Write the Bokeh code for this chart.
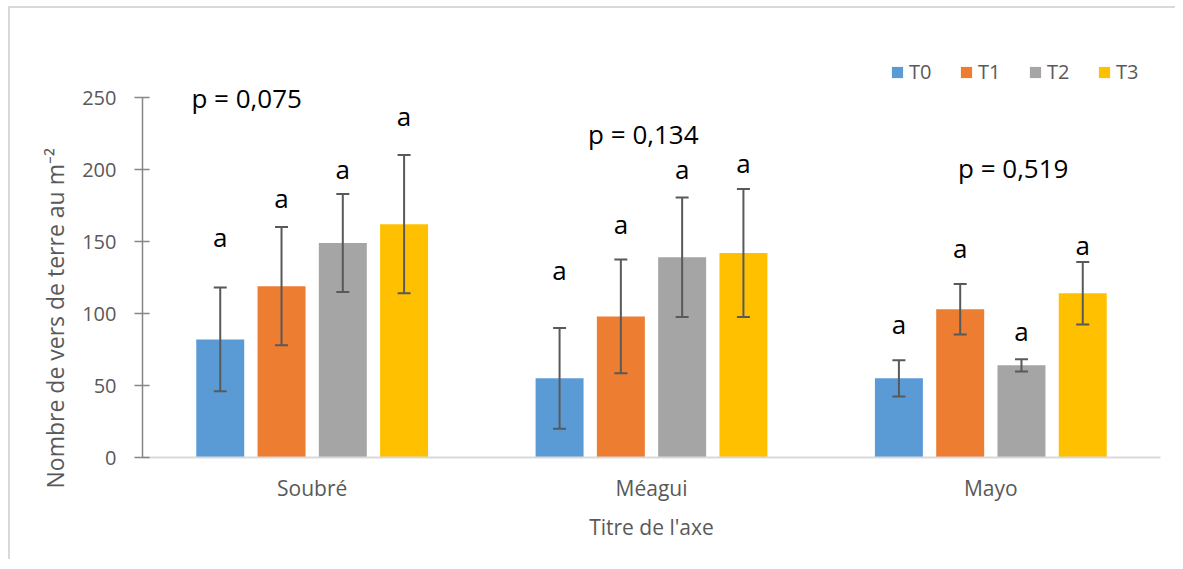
from bokeh.plotting import figure
from bokeh.models import (ColumnDataSource, FactorRange, Range1d, FixedTicker,
                          Whisker, TeeHead, Legend, LegendItem, Title)
from bokeh.transform import dodge
from bokeh.core.properties import value
from bokeh.embed import file_html
from bokeh.resources import INLINE

# ---------------- data ----------------
sites = ["Soubré", "Méagui", "Mayo"]
series = ["T0", "T1", "T2", "T3"]

t0 = [82, 55, 55]
t1 = [119, 98, 103]
t2 = [149, 139, 64]
t3 = [162, 142, 114]

t0_err = [36, 35, 12.6]
t1_err = [41, 39.5, 17.5]
t2_err = [34, 41.5, 4.3]
t3_err = [48, 44.5, 21.7]

letters = ["a", "a", "a"]
p_labels = ["p = 0,075", "p = 0,134", "p = 0,519"]

# annotation heights (data units)
t0_letter_y = [146.7, 123.4, 86.3]
t1_letter_y = [173.8, 155.8, 138.7]
t2_letter_y = [193.5, 193.5, 81.3]
t3_letter_y = [230.6, 198.1, 141.0]
p_label_y = [243.3, 217.8, 194.7]
p_label_dx = [-0.193, -0.024, 0.066]

y_ticks = [0, 50, 100, 150, 200, 250]
y_title = "Nombre de vers de terre au m⁻²"
x_title = "Titre de l'axe"

colors = ["#5B9BD5", "#ED7D31", "#A5A5A5", "#FFC000"]
offsets = [-0.2709, -0.0903, 0.0903, 0.2709]
bar_w = 0.1414

vals = [t0, t1, t2, t3]
errs = [t0_err, t1_err, t2_err, t3_err]
let_y = [t0_letter_y, t1_letter_y, t2_letter_y, t3_letter_y]

FONT = "Open Sans"

p = figure(x_range=FactorRange(*sites, range_padding=0),
           y_range=Range1d(0, 275),
           width=1167, height=553,
           output_backend="svg", toolbar_location=None,
           min_border_left=132, min_border_right=17,
           min_border_top=53, min_border_bottom=104)
p.outline_line_color = None
p.xgrid.grid_line_color = None
p.ygrid.grid_line_color = None
p.background_fill_color = "white"
p.border_fill_color = "white"
p.styles = {"border-left": "2px solid #d9d9d9", "border-top": "2px solid #d9d9d9",
            "margin-left": "8px", "margin-top": "6px"}

legend_items = []
for i, name in enumerate(series):
    src = ColumnDataSource(dict(
        site=sites, top=vals[i],
        upper=[v + e for v, e in zip(vals[i], errs[i])],
        lower=[v - e for v, e in zip(vals[i], errs[i])],
        ly=let_y[i], lt=letters))
    xd = dodge("site", offsets[i], range=p.x_range)
    r = p.vbar(x=xd, top="top", width=bar_w, source=src,
               fill_color=colors[i], line_color=None)
    legend_items.append(LegendItem(label=name, renderers=[r]))
    w = Whisker(base=xd, upper="upper", lower="lower", source=src,
                line_color="#595959", line_width=2, level="overlay",
                upper_head=TeeHead(size=13, line_color="#595959", line_width=2),
                lower_head=TeeHead(size=13, line_color="#595959", line_width=2))
    p.add_layout(w)
    p.text(x=xd, y="ly", text="lt", source=src, y_offset=-9.5,
           text_font=value(FONT), text_font_size="26px", text_color="black",
           text_align="center", text_baseline="alphabetic")

for j, s in enumerate(sites):
    src = ColumnDataSource(dict(site=[s], y=[p_label_y[j]], t=[p_labels[j]]))
    p.text(x=dodge("site", p_label_dx[j], range=p.x_range), y="y", text="t",
           source=src, y_offset=-9.5, text_font=value(FONT), text_font_size="26px",
           text_color="black", text_align="center", text_baseline="alphabetic")

legend = Legend(items=legend_items, orientation="horizontal",
                location=(748, 372), background_fill_alpha=0,
                border_line_color=None, padding=0, margin=0,
                glyph_width=14, glyph_height=14, label_standoff=5,
                label_width=28, spacing=22,
                label_text_font=FONT, label_text_font_size="20px",
                label_text_color="#595959", label_height=26,
                label_text_baseline="middle")
p.add_layout(legend, "center")

# y axis
ya = p.yaxis[0]
ya.bounds = (0, 250)
ya.ticker = FixedTicker(ticks=y_ticks)
ya.axis_line_color = "#868686"
ya.axis_line_width = 1.5
ya.major_tick_line_color = "#868686"
ya.major_tick_line_width = 1.5
ya.major_tick_in = 7
ya.major_tick_out = 8
ya.minor_tick_line_color = None
ya.major_label_text_font = FONT
ya.major_label_text_font_size = "20px"
ya.major_label_text_color = "#595959"
ya.major_label_standoff = 18

# y title as a side title, starting low like the reference
p.add_layout(Title(text=y_title, align="left", offset=-31,
                   vertical_align="middle", standoff=16,
                   text_font=FONT, text_font_size="23px",
                   text_font_style="normal", text_color="#595959"), "left")

# x axis
xa = p.xaxis[0]
xa.axis_line_color = "#d9d9d9"
xa.axis_line_width = 2
xa.major_tick_line_color = None
xa.minor_tick_line_color = None
xa.major_label_text_font = FONT
xa.major_label_text_font_size = "21px"
xa.major_label_text_color = "#595959"
xa.major_label_standoff = 10
xa.axis_label = x_title
xa.axis_label_text_font = FONT
xa.axis_label_text_font_size = "21px"
xa.axis_label_text_font_style = "normal"
xa.axis_label_text_color = "#595959"
xa.axis_label_standoff = 8

open("out.html", "w").write(file_html(p, INLINE))
